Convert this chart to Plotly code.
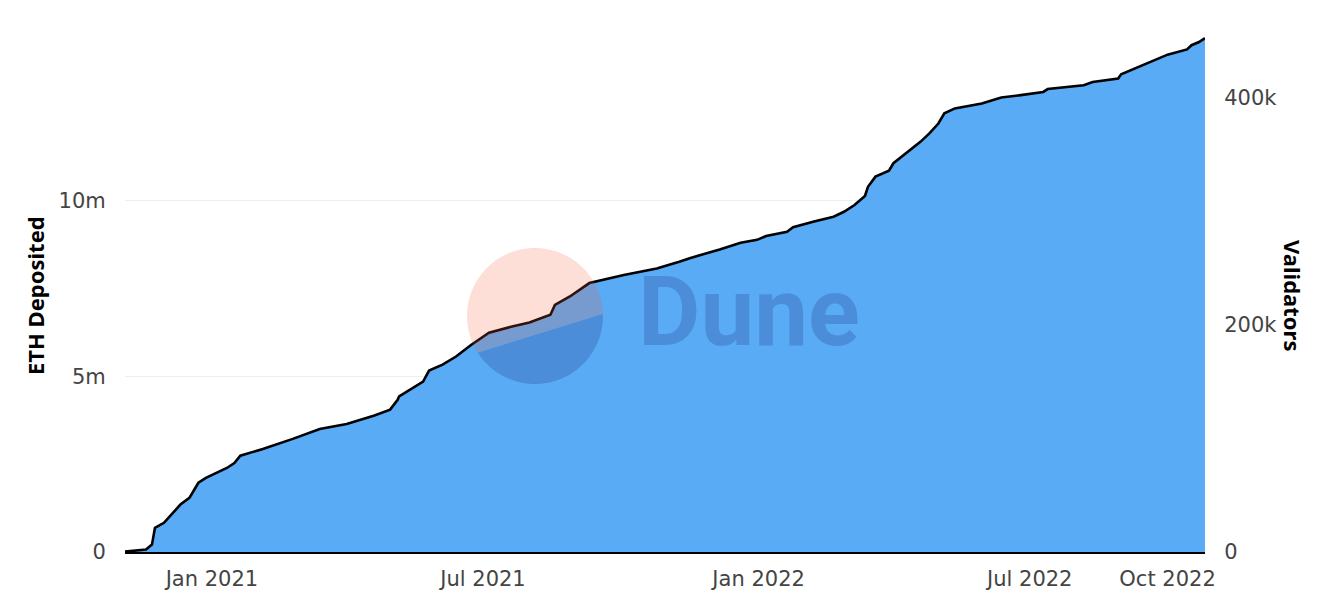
import math
import plotly.graph_objects as go

# ---------------- data ----------------
dates = [
    "2020-11-04", "2020-11-18", "2020-11-22", "2020-11-24", "2020-11-30", "2020-12-05",
    "2020-12-11", "2020-12-17", "2020-12-23", "2020-12-28", "2021-01-11", "2021-01-16",
    "2021-01-20", "2021-02-04", "2021-02-24", "2021-03-14", "2021-04-01", "2021-04-19",
    "2021-04-30", "2021-05-05", "2021-05-06", "2021-05-22", "2021-05-26", "2021-06-04",
    "2021-06-13", "2021-06-23", "2021-07-05", "2021-07-19", "2021-08-01", "2021-08-15",
    "2021-08-18", "2021-08-28", "2021-09-10", "2021-10-03", "2021-10-25", "2021-11-09",
    "2021-11-16", "2021-12-06", "2021-12-20", "2021-12-31", "2022-01-06", "2022-01-20",
    "2022-01-24", "2022-02-07", "2022-02-20", "2022-02-27", "2022-03-06", "2022-03-13",
    "2022-03-15", "2022-03-20", "2022-03-29", "2022-04-01", "2022-04-11", "2022-04-19",
    "2022-04-25", "2022-05-01", "2022-05-05", "2022-05-12", "2022-05-30", "2022-06-12",
    "2022-06-25", "2022-07-08", "2022-07-10", "2022-07-13", "2022-08-06", "2022-08-12",
    "2022-08-29", "2022-08-31", "2022-09-09", "2022-09-22", "2022-10-01", "2022-10-14",
    "2022-10-17", "2022-10-22", "2022-10-26",
]

eth_deposited_m = [
    0.01, 0.07, 0.21, 0.69, 0.83, 1.07,
    1.35, 1.54, 1.97, 2.11, 2.39, 2.53,
    2.74, 2.93, 3.22, 3.50, 3.64, 3.88,
    4.05, 4.33, 4.43, 4.85, 5.16, 5.33,
    5.56, 5.89, 6.24, 6.40, 6.53, 6.75,
    7.03, 7.27, 7.65, 7.88, 8.07, 8.26,
    8.36, 8.61, 8.80, 8.88, 8.99, 9.11,
    9.24, 9.40, 9.54, 9.68, 9.87, 10.13,
    10.39, 10.68, 10.85, 11.06, 11.39, 11.67,
    11.91, 12.19, 12.48, 12.62, 12.76, 12.93,
    13.00, 13.07, 13.09, 13.17, 13.28, 13.37,
    13.47, 13.59, 13.76, 13.99, 14.15, 14.30,
    14.42, 14.51, 14.62,
]

validators_k = [
    0.3, 2.2, 6.5, 21.3, 25.7, 33.1,
    41.7, 47.6, 60.9, 65.2, 73.9, 78.2,
    84.7, 90.6, 99.5, 108.2, 112.5, 119.9,
    125.2, 133.8, 136.9, 149.9, 159.5, 164.8,
    171.9, 182.1, 192.9, 197.8, 201.8, 208.6,
    217.3, 224.7, 236.5, 243.6, 249.4, 255.3,
    258.4, 266.1, 272.0, 274.5, 277.9, 281.6,
    285.6, 290.6, 294.9, 299.2, 305.1, 313.1,
    321.2, 330.1, 335.4, 341.9, 352.1, 360.7,
    368.1, 376.8, 385.8, 390.1, 394.4, 399.7,
    401.8, 404.0, 404.6, 407.1, 410.5, 413.3,
    416.4, 420.1, 425.3, 432.4, 437.4, 442.0,
    445.7, 448.5, 451.9,
]

x_tick_vals = ["2021-01-01", "2021-07-01", "2022-01-01", "2022-07-01", "2022-10-01"]
x_tick_text = ["Jan 2021", "Jul 2021", "Jan 2022", "Jul 2022", "Oct 2022"]
y_tick_vals = [0, 5, 10]
y_tick_text = ["0", "5m", "10m"]
y2_tick_vals = [0, 200, 400]
y2_tick_text = ["0", "200k", "400k"]

# ---------------- layout geometry ----------------
W, H = 1342, 606
ML, MR, MT, MB = 125, 137, 37, 54
PW, PH = W - ML - MR, H - MT - MB

TICK_FONT = "DejaVu Sans"
TITLE_FONT = "Noto Sans"
TICK_COLOR = "#444444"


def paper(px, py):
    return (px - ML) / PW, (H - MB - py) / PH


fig = go.Figure()
fig.add_trace(go.Scatter(
    x=dates, y=eth_deposited_m, mode="lines", fill="tozeroy",
    line=dict(width=0, color="#58abf4"), fillcolor="#58abf4",
    name="ETH Deposited", yaxis="y", hoverinfo="skip",
))
fig.add_trace(go.Scatter(
    x=dates, y=validators_k, mode="lines",
    line=dict(width=2.6, color="#000000"),
    name="Validators", yaxis="y2",
))

# ---------------- watermark (Dune logo) ----------------
cx, cy, r = 535, 316, 68
a_start, a_end = math.radians(-1.7), math.radians(147.4)


def arc_path(t0, t1, n=60):
    pts = []
    for i in range(n + 1):
        t = t0 + (t1 - t0) * i / n
        pts.append(paper(cx + r * math.cos(t), cy + r * math.sin(t)))
    return "M " + " L ".join(f"{x:.5f},{y:.5f}" for x, y in pts) + " Z"


shapes = [
    dict(type="path", xref="paper", yref="paper", path=arc_path(a_end, a_start + 2 * math.pi),
         fillcolor="#F4603E", opacity=0.2, line=dict(width=0), layer="above"),
    dict(type="path", xref="paper", yref="paper", path=arc_path(a_start, a_end),
         fillcolor="#1E1870", opacity=0.2, line=dict(width=0), layer="above"),
]

dx, dy = paper(749, 312)
annotations = [
    dict(text="Dune", x=dx, y=dy, xref="paper", yref="paper", xanchor="center", yanchor="middle",
         showarrow=False, opacity=0.2,
         font=dict(family="Roboto", size=96, color="#1E1870", weight="bold")),
    dict(text="ETH Deposited", x=paper(35, 0)[0], y=paper(0, 296)[1], xref="paper", yref="paper",
         xanchor="center", yanchor="middle", showarrow=False, textangle=-90,
         font=dict(family=TITLE_FONT, size=22, color="#000000", weight="bold")),
    dict(text="Validators", x=paper(1293, 0)[0], y=paper(0, 295)[1], xref="paper", yref="paper",
         xanchor="center", yanchor="middle", showarrow=False, textangle=90,
         font=dict(family=TITLE_FONT, size=22, color="#000000", weight="bold")),
]

fig.update_layout(
    width=W, height=H,
    margin=dict(l=ML, r=MR, t=MT, b=MB, autoexpand=False),
    paper_bgcolor="#ffffff", plot_bgcolor="#ffffff",
    showlegend=False,
    font=dict(family=TICK_FONT, size=22, color=TICK_COLOR),
    shapes=shapes, annotations=annotations,
    xaxis=dict(
        type="date", range=["2020-11-04", "2022-10-26"],
        tickvals=x_tick_vals, ticktext=x_tick_text,
        showgrid=False, zeroline=False,
        showline=True, linecolor="#000000", linewidth=1.5,
        ticks="outside", ticklen=7, tickcolor="rgba(0,0,0,0)",
        tickfont=dict(family=TICK_FONT, size=21, color=TICK_COLOR),
    ),
    yaxis=dict(
        range=[0, 14.65], tickvals=y_tick_vals, ticktext=y_tick_text,
        showgrid=True, gridcolor="#eeeeee", gridwidth=1, zeroline=False,
        ticks="outside", ticklen=14, tickcolor="rgba(0,0,0,0)",
        tickfont=dict(family=TICK_FONT, size=21, color=TICK_COLOR),
    ),
    yaxis2=dict(
        range=[0, 452.9], tickvals=y2_tick_vals, ticktext=y2_tick_text,
        overlaying="y", side="right", showgrid=False, zeroline=False,
        ticks="outside", ticklen=14, tickcolor="rgba(0,0,0,0)",
        tickfont=dict(family=TICK_FONT, size=21, color=TICK_COLOR),
    ),
)

fig.write_html("out.html", config={"displayModeBar": False},
               post_script="document.body.style.margin='0';")
